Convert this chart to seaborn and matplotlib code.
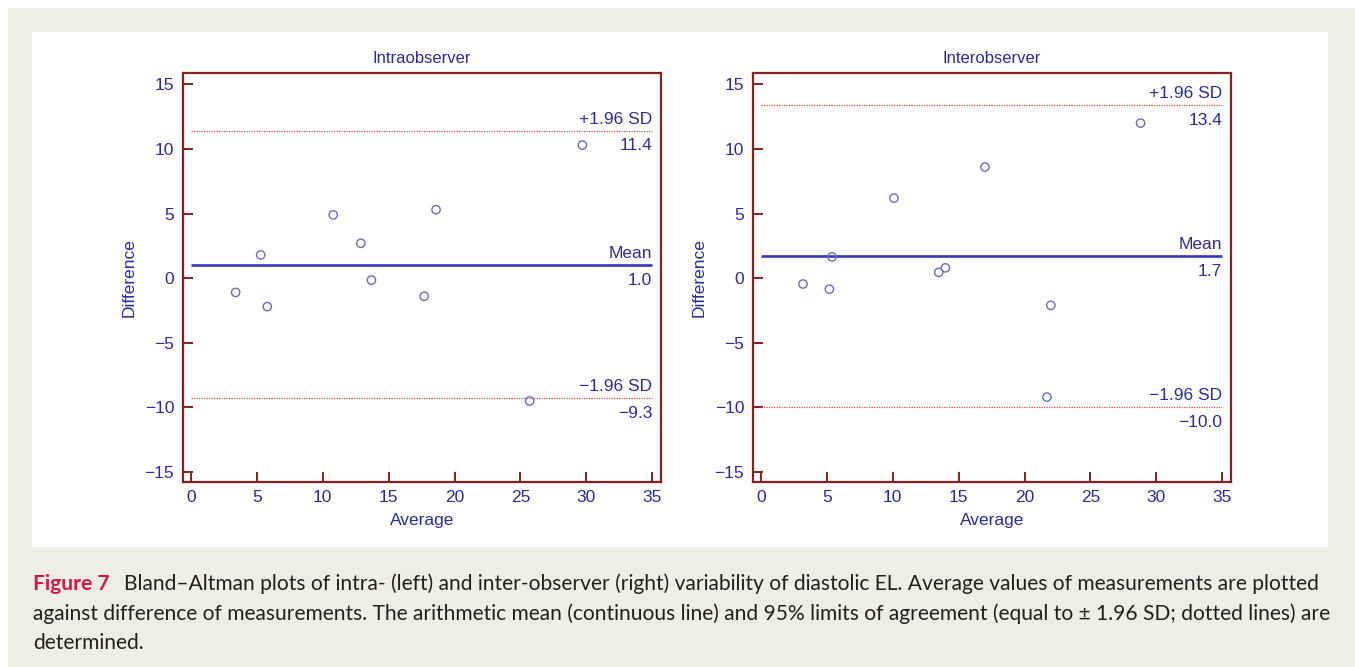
import matplotlib
matplotlib.use("Agg")
import matplotlib.pyplot as plt
import seaborn as sns
import pandas as pd
from matplotlib.patches import Rectangle

# Intra-observer measurements: average vs difference
intra_avg = [3.4, 5.3, 5.8, 10.8, 12.9, 13.7, 17.7, 18.6, 25.7, 29.7]
intra_diff = [-1.1, 1.8, -2.2, 4.9, 2.7, -0.15, -1.4, 5.3, -9.5, 10.3]
intra_mean, intra_upper, intra_lower = 1.0, 11.4, -9.3

# Inter-observer measurements: average vs difference
inter_avg = [3.2, 5.2, 5.4, 10.1, 13.5, 14.0, 17.0, 21.7, 22.0, 28.8]
inter_diff = [-0.45, -0.85, 1.65, 6.2, 0.45, 0.8, 8.6, -9.2, -2.1, 12.0]
inter_mean, inter_upper, inter_lower = 1.7, 13.4, -10.0

panel_titles = ["Intraobserver", "Interobserver"]
x_ticks = list(range(0, 36, 5))
y_ticks = list(range(-15, 16, 5))

caption_lead = "Figure 7"
caption_lines = [
    "Bland\u2013Altman plots of intra- (left) and inter-observer (right) variability of "
    "diastolic EL. Average values of measurements are plotted",
    "against difference of measurements. The arithmetic mean (continuous line) and 95% "
    "limits of agreement (equal to \u00b1 1.96 SD; dotted lines) are",
    "determined.",
]

# colours
BEIGE = "#efeee4"
TXT = "#2b2b9c"
SPINE = "#871f1f"
MEAN_BLUE = "#3636c0"
LIMIT_RED = "#d04848"
MARK = "#6b6bbd"
CAP = "#231f20"
CAP_RED = "#d3164f"

sns.set_style("ticks")
plt.rcParams["font.family"] = ["Liberation Sans", "DejaVu Sans"]
plt.rcParams["axes.unicode_minus"] = True

W, H = 1355, 667
fig = plt.figure(figsize=(W / 100, H / 100), dpi=100)
fig.patch.set_facecolor("white")


def fx(px):
    return px / W


def fy(py):
    return 1 - py / H


# page background and white figure panel
fig.add_artist(Rectangle((fx(8), 0), 1 - fx(8), fy(8), transform=fig.transFigure,
                         facecolor=BEIGE, edgecolor="none", zorder=-10))
fig.add_artist(Rectangle((fx(32), fy(547)), fx(1328) - fx(32), fy(32) - fy(547),
                         transform=fig.transFigure, facecolor="white",
                         edgecolor="none", zorder=-9))


def fmt(v):
    return f"{v:.1f}".replace("-", "\u2212")


panels = [
    (panel_titles[0], intra_avg, intra_diff, intra_mean, intra_upper, intra_lower, 182.5),
    (panel_titles[1], inter_avg, inter_diff, inter_mean, inter_upper, inter_lower, 752.5),
]

ax_top, ax_bottom, ax_w = 72.7, 482.0, 478.5
for title, avg, diff, mean, upper, lower, left in panels:
    ax = fig.add_axes([fx(left), fy(ax_bottom), ax_w / W, (ax_bottom - ax_top) / H])
    ax.set_facecolor("white")
    df = pd.DataFrame({"Average": avg, "Difference": diff})

    ax.hlines([upper, lower], 0, 35, colors=LIMIT_RED, linestyles=(0, (1, 1)),
              linewidth=0.9, zorder=2)
    ax.hlines(mean, 0, 35, colors=MEAN_BLUE, linewidth=1.9, zorder=2)

    sns.scatterplot(data=df, x="Average", y="Difference", ax=ax, marker="o",
                    s=36, zorder=3, legend=False)
    pts = ax.collections[-1]
    pts.set_facecolor("none")
    pts.set_edgecolor(MARK)
    pts.set_linewidth(1.0)

    for value, name in [(upper, "+1.96 SD"), (mean, "Mean"), (lower, "\u22121.96 SD")]:
        ax.annotate(name, xy=(35, value), xytext=(0, 5), textcoords="offset points",
                    ha="right", va="baseline", color=TXT, fontsize=12.5)
        ax.annotate(fmt(value), xy=(35, value), xytext=(0, -5.5),
                    textcoords="offset points", ha="right", va="top",
                    color=TXT, fontsize=12.5)

    ax.set_xlim(-0.63, 35.66)
    ax.set_ylim(-15.77, 15.9)
    ax.set_xticks(x_ticks)
    ax.set_yticks(y_ticks)
    ax.tick_params(direction="in", length=7, width=1.4, color=SPINE,
                   labelcolor=TXT, labelsize=12.5, pad=6, top=False, right=False)
    for s in ax.spines.values():
        s.set_visible(True)
        s.set_color(SPINE)
        s.set_linewidth(1.6)
    ax.grid(False)
    ax.set_title(title, color=TXT, fontsize=12, pad=7)
    ax.set_xlabel("Average", color=TXT, fontsize=12.5, labelpad=5.5)
    ax.set_ylabel("Difference", color=TXT, fontsize=12.5, labelpad=6)

# caption
fs = 13.0
cap_font = ["Lato", "DejaVu Sans"]
t_lead = fig.text(fx(33), fy(590), caption_lead, family=cap_font, fontweight="bold",
                  color=CAP_RED, fontsize=fs, va="baseline")
t1 = fig.text(fx(150), fy(590), caption_lines[0], family=cap_font, color=CAP,
              fontsize=fs, va="baseline")
t2 = fig.text(fx(33), fy(619.5), caption_lines[1], family=cap_font, color=CAP,
              fontsize=fs, va="baseline")
t3 = fig.text(fx(33), fy(649), caption_lines[2], family=cap_font, color=CAP,
              fontsize=fs, va="baseline")

renderer = fig.canvas.get_renderer()


def place_first_line():
    bb = t_lead.get_window_extent(renderer)
    t1.set_x((bb.x1 + 14) / W)


for _ in range(3):
    place_first_line()
    right = t1.get_window_extent(renderer).x1
    fs *= (1318 - 33) / (right - 33)
    for t in (t_lead, t1, t2, t3):
        t.set_fontsize(fs)
place_first_line()

fig.savefig("out.png", dpi=100, facecolor=fig.get_facecolor())
